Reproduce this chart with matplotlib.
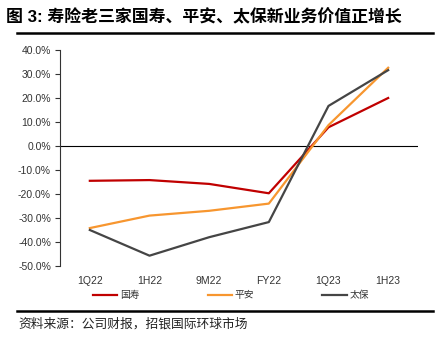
import matplotlib.pyplot as plt
import matplotlib.lines as mlines
import numpy as np

plt.rcParams['font.family'] = ['Liberation Sans', 'Noto Sans CJK SC', 'DejaVu Sans']

# 数据
periods = ['1Q22', '1H22', '9M22', 'FY22', '1Q23', '1H23']
guoshou = [-14.5, -14.2, -15.8, -19.7, 7.8, 20.0]
pingan = [-34.2, -29.0, -27.0, -24.0, 8.7, 32.6]
taibao = [-35.0, -45.7, -38.0, -31.7, 16.7, 31.6]
yticks = [40, 30, 20, 10, 0, -10, -20, -30, -40, -50]
ylabels = ['%.1f%%' % v for v in yticks]

title = '图 3: 寿险老三家国寿、平安、太保新业务价值正增长'
source = '资料来源：公司财报，招银国际环球市场'

W, H = 444, 352
fig = plt.figure(figsize=(W / 100, H / 100), dpi=100)
ax = fig.add_axes([60 / W, 1 - 266 / H, 358 / W, 216 / H])

x = np.arange(len(periods))
ax.plot(x, guoshou, color='#C00000', lw=1.6, label='国寿')
ax.plot(x, pingan, color='#F7962F', lw=1.6, label='平安')
ax.plot(x, taibao, color='#454545', lw=1.6, label='太保')
ax.axhline(0, color='black', lw=0.8, zorder=1)

ax.set_xlim(-0.5, 5.5)
ax.set_ylim(-50, 40)
ax.set_yticks(yticks)
ax.set_yticklabels(ylabels, fontsize=7.5, color='#333333')
ax.set_xticks(x)
ax.set_xticklabels(periods, fontsize=7.5, color='#333333')
ax.tick_params(axis='x', length=0, pad=7)
ax.tick_params(axis='y', length=3.5, width=0.8, pad=3, color='#333333')
for s in ['top', 'right', 'bottom']:
    ax.spines[s].set_visible(False)
ax.spines['left'].set_linewidth(0.8)
ax.spines['left'].set_color('#333333')

leg = fig.legend(loc='center left', bbox_to_anchor=(84 / W, 1 - 295 / H), ncol=3,
                 frameon=False, handlelength=2.5, handletextpad=0.3,
                 columnspacing=7.0, prop={'family': 'Noto Sans CJK SC', 'size': 7})
for t in leg.get_texts():
    t.set_color('#333333')

fig.text(6 / W, 1 - 17 / H, title, fontsize=12.2, fontweight='bold',
         family=['Liberation Sans', 'Noto Sans CJK SC'], va='center', ha='left')
fig.add_artist(mlines.Line2D([17 / W, 433 / W], [1 - 33 / H, 1 - 33 / H],
                             color='black', lw=1.8))
fig.add_artist(mlines.Line2D([17 / W, 433 / W], [1 - 311 / H, 1 - 311 / H],
                             color='black', lw=1.8))
fig.text(18 / W, 1 - 324 / H, source, fontsize=9.2,
         family=['Noto Sans CJK SC'], va='center', ha='left', color='#222222')

fig.savefig('out.png', dpi=100)
